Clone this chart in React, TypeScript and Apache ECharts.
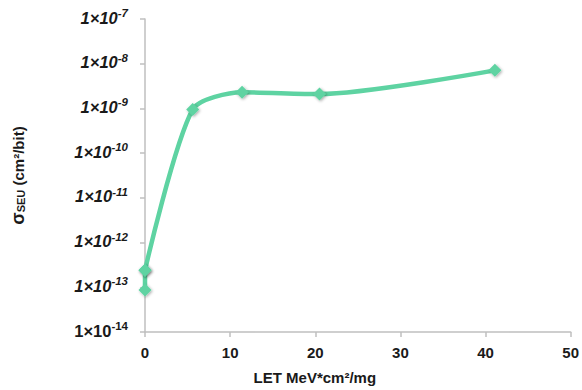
import React, { useEffect, useRef } from "react";
import * as echarts from "echarts";

const letValues = [0, 0, 5.6, 11.4, 20.5, 41.1];
const sigmaValues = [8.7e-14, 2.4e-13, 9.5e-10, 2.3e-9, 2.1e-9, 7.1e-9];
const xTicks = [0, 10, 20, 30, 40, 50];

const FONT = "Liberation Sans, Arial, sans-serif";
const GREEN = "#5ed3a2";

export default function App() {
  const ref = useRef<HTMLDivElement>(null);
  useEffect(() => {
    if (!ref.current) return;
    const chart = echarts.init(ref.current, null, { renderer: "svg" });
    const data = letValues.map((x, i) => [x, sigmaValues[i]]);
    const itemStyle = {
      color: GREEN,
      shadowBlur: 3,
      shadowColor: "rgba(0,0,0,0.35)",
      shadowOffsetX: 1,
      shadowOffsetY: 1,
    };
    chart.setOption({
      animation: false,
      grid: { left: 145, right: 9, top: 19, bottom: 56 },
      xAxis: {
        type: "value",
        min: xTicks[0],
        max: xTicks[xTicks.length - 1],
        interval: 10,
        splitLine: { show: false },
        axisLine: { lineStyle: { color: "#bfbfbf", width: 1.5 } },
        axisTick: { show: true, length: 5, lineStyle: { color: "#bfbfbf", width: 1.5 } },
        axisLabel: {
          color: "#1a1a1a",
          fontFamily: FONT,
          fontWeight: "bold",
          fontSize: 15,
          margin: 13,
        },
        name: "LET MeV*cm²/mg",
        nameLocation: "middle",
        nameGap: 38,
        nameTextStyle: {
          color: "#1a1a1a",
          fontFamily: FONT,
          fontWeight: "bold",
          fontSize: 15,
          padding: [0, 86, 0, 0],
        },
      },
      yAxis: {
        type: "log",
        logBase: 10,
        min: 1e-14,
        max: 1e-7,
        splitLine: { show: false },
        axisLine: { show: true, lineStyle: { color: "#bfbfbf", width: 1.5 } },
        axisTick: { show: true, length: 5, lineStyle: { color: "#bfbfbf", width: 1.5 } },
        axisLabel: {
          margin: 17,
          formatter: (v: number) => {
            const e = Math.round(Math.log10(v));
            if (e === -14) return `{u|1×10}{su|${e}}`;
            return `{a|1×10}{s|${e}}`;
          },
          rich: {
            a: {
              color: "#1a1a1a",
              fontFamily: FONT,
              fontWeight: "bold",
              fontStyle: "italic",
              fontSize: 16.5,
              padding: [0, 0, 3, 0],
            },
            s: {
              color: "#1a1a1a",
              fontFamily: FONT,
              fontWeight: "bold",
              fontStyle: "italic",
              fontSize: 11.5,
              padding: [0, 0, 12, 0],
            },
            u: {
              color: "#1a1a1a",
              fontFamily: FONT,
              fontWeight: "bold",
              fontSize: 16.5,
              padding: [0, 0, 3, 0],
            },
            su: {
              color: "#1a1a1a",
              fontFamily: FONT,
              fontWeight: "bold",
              fontSize: 11.5,
              padding: [0, 0, 12, 0],
            },
          },
        },
        name: "{g|σ}{sub|SEU}{t| (cm²/bit)}",
        nameLocation: "middle",
        nameGap: 118,
        nameRotate: 90,
        nameTextStyle: {
          rich: {
            g: {
              color: "#1a1a1a",
              fontFamily: FONT,
              fontWeight: "bold",
              fontSize: 18,
            },
            sub: {
              color: "#1a1a1a",
              fontFamily: FONT,
              fontWeight: "bold",
              fontSize: 11,
              padding: [6, 0, 0, 0],
            },
            t: {
              color: "#1a1a1a",
              fontFamily: FONT,
              fontWeight: "bold",
              fontSize: 15,
            },
          },
        },
      },
      series: [
        {
          type: "line",
          data: data.slice(0, 2),
          symbol: "diamond",
          symbolSize: 13,
          lineStyle: { color: GREEN, width: 4.5 },
          itemStyle,
        },
        {
          type: "line",
          data: data.slice(1),
          smooth: 0.25,
          symbol: "diamond",
          symbolSize: 13,
          lineStyle: { color: GREEN, width: 4.5 },
          itemStyle,
        },
      ],
    });
    return () => chart.dispose();
  }, []);
  return <div ref={ref} style={{ width: 582, height: 390, position: "absolute", left: 0, top: 0 }} />;
}
